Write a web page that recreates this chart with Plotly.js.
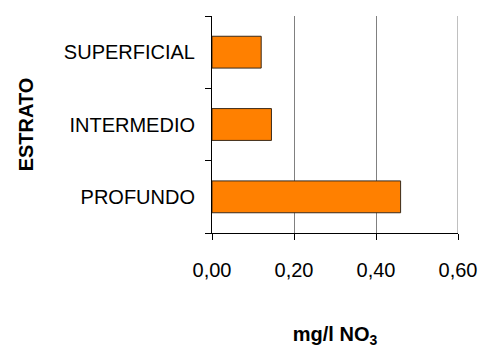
<!DOCTYPE html>
<html>
<head>
<meta charset="utf-8">
<script src="https://cdn.plot.ly/plotly-3.0.1.min.js"></script>
<style>
  html, body { margin: 0; padding: 0; background: #ffffff; }
  #chart { width: 487px; height: 350px; }
</style>
</head>
<body>
<div id="chart"></div>
<script>
const categories = ['PROFUNDO', 'INTERMEDIO', 'SUPERFICIAL'];
const values = [0.46, 0.145, 0.12];
const xTickValues = [0, 0.2, 0.4, 0.6];
const xMax = 0.6;
const xTitle = 'mg/l NO<sub>3</sub>';
const yTitle = 'ESTRATO';

const trace = {
  type: 'bar',
  orientation: 'h',
  x: values,
  y: categories,
  marker: { color: '#FF8000', line: { color: '#3a2a1a', width: 1 } },
  hoverinfo: 'none'
};

const layout = {
  width: 487,
  height: 350,
  margin: { l: 212, r: 29, t: 16, b: 117 },
  paper_bgcolor: '#ffffff',
  plot_bgcolor: '#ffffff',
  separators: ',.',
  bargap: 0.56,
  showlegend: false,
  font: { family: '"Liberation Sans", Arial, sans-serif', color: '#000000' },
  xaxis: {
    range: [0, xMax],
    tickvals: xTickValues,
    tickformat: '.2f',
    showgrid: true,
    gridcolor: '#808080',
    gridwidth: 1,
    zeroline: false,
    showline: true,
    linecolor: '#000000',
    linewidth: 1,
    ticks: 'outside',
    ticklen: 6,
    tickcolor: '#000000',
    tickfont: { size: 20, color: '#000000' },
    ticklabelstandoff: 13,
    title: { text: xTitle, font: { size: 20, color: '#000000', weight: 'bold' }, standoff: 46 },
    fixedrange: true
  },
  yaxis: {
    type: 'category',
    categoryorder: 'array',
    categoryarray: categories,
    showgrid: false,
    zeroline: false,
    showline: true,
    linecolor: '#000000',
    linewidth: 1,
    ticks: 'outside',
    tickson: 'boundaries',
    ticklen: 6,
    tickcolor: '#000000',
    tickfont: { size: 20, color: '#000000' },
    ticklabelstandoff: 12,
    title: { text: yTitle, font: { size: 20, color: '#000000', weight: 'bold' }, standoff: 24 },
    fixedrange: true
  },
  shapes: [{
    type: 'line', xref: 'x', yref: 'paper',
    x0: xMax, x1: xMax, y0: 0, y1: 1,
    line: { color: '#808080', width: 1 }
  }]
};

Plotly.newPlot('chart', [trace], layout, { displayModeBar: false, staticPlot: true });
</script>
</body>
</html>
